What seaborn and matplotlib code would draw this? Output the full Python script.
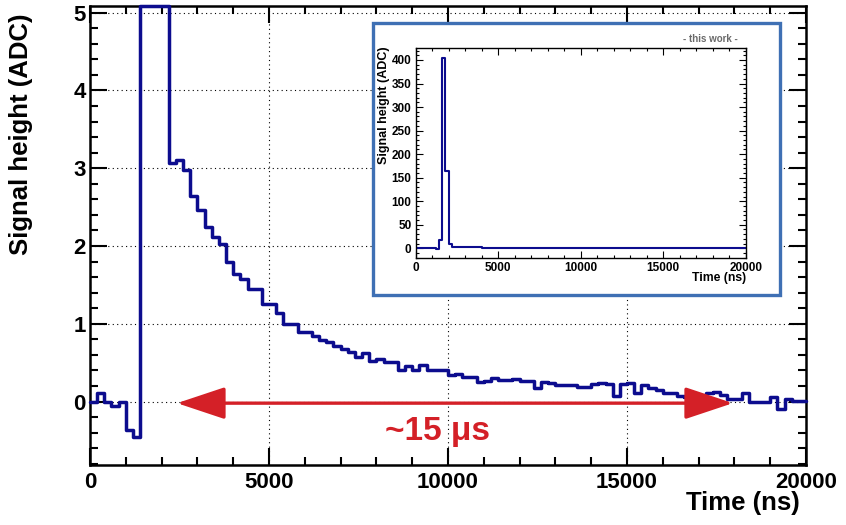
import numpy as np
import seaborn as sns
import matplotlib.pyplot as plt
from matplotlib.patches import Rectangle
from matplotlib.ticker import MultipleLocator

sns.set_style('ticks')
plt.rcParams['font.family'] = ['Liberation Sans', 'DejaVu Sans']
plt.rcParams['font.weight'] = 'bold'
plt.rcParams.update({'axes.edgecolor': 'black', 'xtick.color': 'black',
                     'ytick.color': 'black', 'text.color': 'black',
                     'axes.labelcolor': 'black'})

# binned waveform, 100 bins of 200 ns from 0 to 20000 ns
bin_edges = np.arange(0, 20001, 200)
signal = [0.0, 0.11, 0.0, -0.06, 0.0, -0.37, -0.46, 17.0, 405.0, 165.0,
          10.0, 3.07, 3.10, 2.98, 2.64, 2.46, 2.24, 2.12, 2.02, 1.80,
          1.64, 1.58, 1.45, 1.45, 1.25, 1.25, 1.14, 1.00, 1.00, 0.90,
          0.90, 0.84, 0.79, 0.76, 0.71, 0.67, 0.64, 0.57, 0.62, 0.52,
          0.55, 0.51, 0.51, 0.40, 0.46, 0.41, 0.47, 0.41, 0.41, 0.41,
          0.34, 0.36, 0.32, 0.32, 0.25, 0.27, 0.30, 0.28, 0.28, 0.29,
          0.27, 0.27, 0.17, 0.25, 0.24, 0.21, 0.21, 0.21, 0.19, 0.19,
          0.23, 0.24, 0.23, 0.07, 0.22, 0.24, 0.11, 0.21, 0.17, 0.15,
          0.11, 0.11, 0.07, 0.06, 0.05, 0.06, 0.11, 0.12, 0.08, 0.03,
          0.03, 0.11, 0.0, 0.0, 0.0, 0.06, -0.09, 0.03, 0.01, 0.01]

navy = '#0c0c8e'
red = '#d42027'
box_blue = '#3f70b4'

main_ylim = (-0.815, 5.086)

fig = plt.figure(figsize=(8.46, 5.25), dpi=100)
ax = fig.add_axes([0.1064, 0.1143, 0.8463, 0.8743])

# ROOT draws overflowing bins flat at the frame top
shown = np.minimum(np.append(signal, signal[-1]), main_ylim[1])
sns.lineplot(x=bin_edges, y=shown, drawstyle='steps-post', estimator=None,
             color=navy, linewidth=2.5, clip_on=False, zorder=3, ax=ax)

ax.set_xlim(0, 20000)
ax.set_ylim(*main_ylim)
ax.xaxis.set_major_locator(MultipleLocator(5000))
ax.xaxis.set_minor_locator(MultipleLocator(1000))
ax.yaxis.set_major_locator(MultipleLocator(1))
ax.yaxis.set_minor_locator(MultipleLocator(0.2))
ax.tick_params(which='both', direction='in', top=True, right=True,
               width=1.5, labelsize=16)
ax.tick_params(which='major', length=12)
ax.tick_params(which='minor', length=6)
ax.tick_params(axis='x', pad=5)
ax.tick_params(axis='y', pad=3)
for s in ax.spines.values():
    s.set_linewidth(1.8)
ax.set_axisbelow(True)
ax.grid(True, which='major', color='black', linestyle=(0, (1, 3)), linewidth=0.8)

ax.set_ylabel('Signal height (ADC)', fontsize=18.5, fontweight='bold')
ax.yaxis.set_label_coords(-0.079, 0.72)
ax.set_xlabel('Time (ns)', fontsize=18.5, fontweight='bold', loc='right')
ax.xaxis.set_label_coords(0.9916, -0.056)

# ~15 us arrow
ax.annotate('', xy=(2430, -0.02), xytext=(17960, -0.02),
            arrowprops=dict(arrowstyle='<|-|>,head_length=30,head_width=10',
                            mutation_scale=1, color=red, linewidth=2.4,
                            shrinkA=0, shrinkB=0))
ax.text(9720, -0.38, '~15 μs', color=red, fontsize=24, fontweight='bold',
        ha='center', va='center')

# inset frame
ax.add_patch(Rectangle((0.4409, 0.4381), 0.4811, 0.5181, transform=fig.transFigure,
                       facecolor='white', edgecolor=box_blue, linewidth=2.4,
                       clip_on=False, zorder=10))

ins = fig.add_axes([0.4914, 0.5091, 0.3901, 0.40])
sns.lineplot(x=bin_edges, y=np.append(signal, signal[-1]), drawstyle='steps-post',
             estimator=None, color=navy, linewidth=1.5, ax=ins)
ins.set_xlim(0, 20000)
ins.set_ylim(-20, 426)
ins.xaxis.set_major_locator(MultipleLocator(5000))
ins.xaxis.set_minor_locator(MultipleLocator(1000))
ins.yaxis.set_major_locator(MultipleLocator(50))
ins.yaxis.set_minor_locator(MultipleLocator(10))
ins.tick_params(which='both', direction='in', top=True, right=True,
                width=0.8, labelsize=8.5, pad=3)
ins.tick_params(which='major', length=5)
ins.tick_params(which='minor', length=2.5)
for s in ins.spines.values():
    s.set_linewidth(1.0)
ins.set_ylabel('Signal height (ADC)', fontsize=9, fontweight='bold')
ins.yaxis.set_label_coords(-0.078, 0.727)
ins.set_xlabel('Time (ns)', fontsize=8.8, fontweight='bold', loc='right')
ins.xaxis.set_label_coords(1.0, -0.07)

fig.text(710 / 846, 1 - 39 / 525, '- this work -', color='#6a6a6a', fontsize=7,
         fontweight='bold', ha='center', va='center')

fig.savefig('out.png', dpi=100)
